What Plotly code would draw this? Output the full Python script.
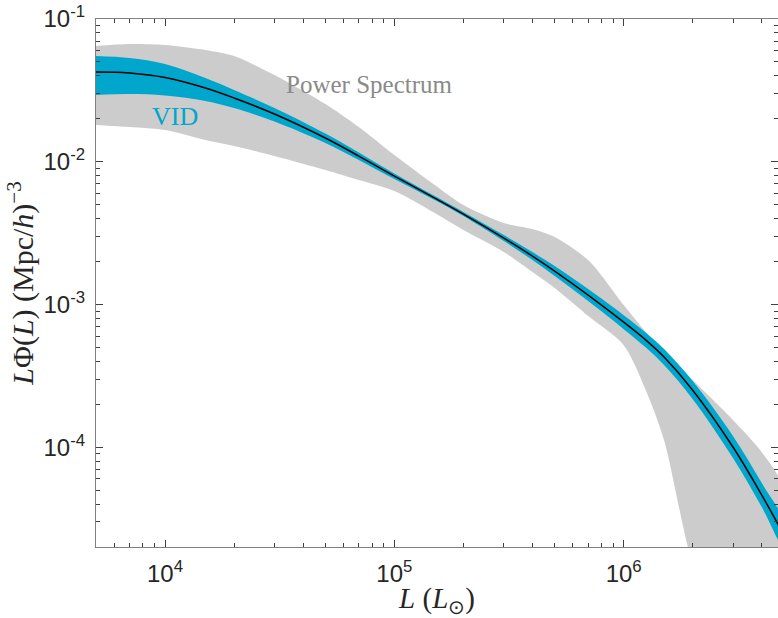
import numpy as np
import plotly.graph_objects as go

# Luminosity grid (L_sun)
L = [5e3, 7e3, 1e4, 1.5e4, 2e4, 3e4, 5e4, 7e4, 1e5, 1.5e5, 2e5, 3e5, 4e5, 5e5,
     7e5, 1e6, 1.25e6, 1.5e6, 2e6, 3e6, 4e6, 5e6]

# Best-fit (black line)
center = [0.04252, 0.04183, 0.03891, 0.03284, 0.02796, 0.02158, 0.01466, 0.01096,
          0.007939, 0.005566, 0.004300, 0.002920, 0.002184, 0.001714, 0.001163,
          0.000752, 0.000563, 0.000428, 0.000251, 1.00e-4, 4.62e-5, 2.42e-5]

# VID constraint band
vid_hi = [0.05503, 0.05328, 0.04838, 0.03860, 0.03180, 0.02378, 0.01576, 0.01160,
          0.008265, 0.005747, 0.004441, 0.003064, 0.002330, 0.001858, 0.001282,
          0.000842, 0.000635, 0.000488, 0.000291, 1.195e-4, 5.61e-5, 2.99e-5]
vid_lo = [0.02934, 0.02981, 0.02910, 0.02663, 0.02378, 0.01912, 0.01352, 0.01028,
          0.007563, 0.005390, 0.004164, 0.002781, 0.002046, 0.001581, 0.001056,
          0.000672, 0.000499, 0.000376, 0.000217, 8.37e-5, 3.81e-5, 1.96e-5]

# Power spectrum constraint band
ps_hi = [0.06468, 0.06681, 0.06574, 0.06064, 0.05503, 0.04050, 0.02536, 0.01750,
         0.01114, 0.006866, 0.004973, 0.003719, 0.003376, 0.002967, 0.002046,
         0.000990, 0.000640, 0.000464, 0.0002953, 1.548e-4, 9.24e-5, 5.00e-5]
ps_lo = [0.01808, 0.01750, 0.01668, 0.01419, 0.01288, 0.01096, 0.008746, 0.007442,
         0.006232, 0.004369, 0.003321, 0.002329, 0.001687, 0.001303, 0.000829,
         0.000519, 0.000250, 0.0001121, 1.5e-5, 3e-6, 1e-6, 1e-6]

x_tickvals = [1e4, 1e5, 1e6]
x_ticktext = ["10<sup>4</sup>", "10<sup>5</sup>", "10<sup>6</sup>"]
y_tickvals = [1e-4, 1e-3, 1e-2, 1e-1]
y_ticktext = ["10<sup>-4</sup>", "10<sup>-3</sup>", "10<sup>-2</sup>", "10<sup>-1</sup>"]

x_minor = [m * 10 ** e for e in range(3, 7) for m in range(2, 10)]
y_minor = [m * 10 ** e for e in range(-5, 0) for m in range(2, 10)]

GRAY = "#cccccc"
CYAN = "#00a6cb"

fig = go.Figure()
fig.add_trace(go.Scatter(x=L + L[::-1], y=ps_hi + ps_lo[::-1], fill="toself",
                         fillcolor=GRAY, line=dict(width=0, shape="spline", smoothing=0.8),
                         mode="lines", hoverinfo="skip", showlegend=False))
fig.add_trace(go.Scatter(x=L + L[::-1], y=vid_hi + vid_lo[::-1], fill="toself",
                         fillcolor=CYAN, line=dict(width=0, shape="spline"), mode="lines",
                         hoverinfo="skip", showlegend=False))
fig.add_trace(go.Scatter(x=L, y=center, mode="lines",
                         line=dict(color="black", width=1.5, shape="spline"),
                         showlegend=False))

fig.add_annotation(x=np.log10(7.75e4), y=np.log10(0.0350), xref="x", yref="y",
                   text="Power Spectrum", showarrow=False,
                   font=dict(family="Liberation Serif", size=25, color="#8a8a8a"))
fig.add_annotation(x=np.log10(1.1e4), y=np.log10(0.0209), xref="x", yref="y",
                   text="VID", showarrow=False,
                   font=dict(family="Liberation Serif", size=26, color=CYAN))

axis_common = dict(showline=True, linecolor="#808080", linewidth=1.2, mirror="ticks",
                   ticks="inside", ticklen=7, tickwidth=1, tickcolor="#404040",
                   showgrid=False, zeroline=False,
                   tickfont=dict(family="Liberation Sans", size=24, color="#262626"))

x0 = np.log10(5e3)
fig.update_xaxes(type="log", range=[x0, x0 + 682 / 229.33], tickmode="array",
                 tickvals=x_tickvals, ticktext=x_ticktext, ticklabelstandoff=5,
                 minor=dict(tickmode="array", tickvals=x_minor, ticks="inside",
                            ticklen=4, tickcolor="#404040"),
                 title=dict(text="<i>L</i> (<i>L</i><sub>⊙</sub>)", standoff=3,
                            font=dict(family="Liberation Serif", size=29, color="#262626")),
                 **axis_common)
fig.update_yaxes(type="log", range=[np.log10(2e-5), -1], tickmode="array",
                 tickvals=y_tickvals, ticktext=y_ticktext, ticklabelstandoff=5,
                 minor=dict(tickmode="array", tickvals=y_minor, ticks="inside",
                            ticklen=4, tickcolor="#404040"),
                 title=dict(text="<i>L</i>Φ(<i>L</i>) (Mpc/<i>h</i>)<sup>−3</sup>", standoff=0,
                            font=dict(family="Liberation Serif", size=30, color="#262626")),
                 **axis_common)

fig.update_layout(width=778, height=618, margin=dict(l=96, r=0, t=19, b=71),
                  plot_bgcolor="white", paper_bgcolor="white")

fig.write_html("out.html")
